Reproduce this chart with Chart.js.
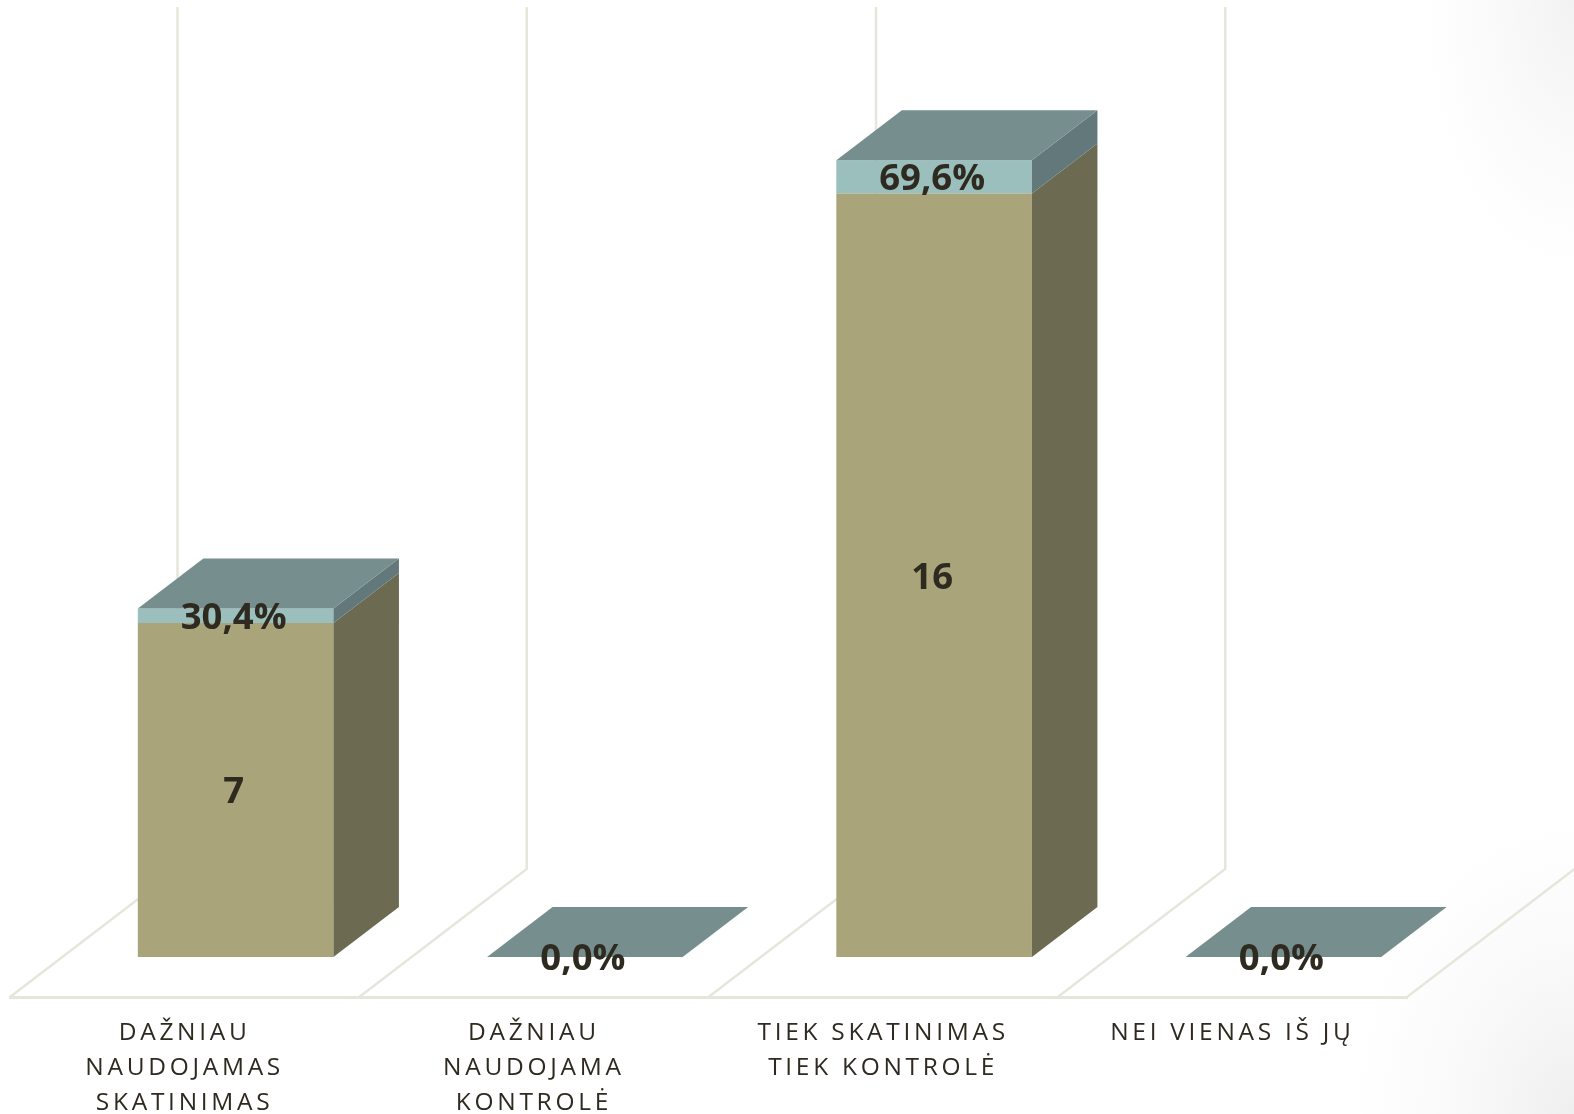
<!DOCTYPE html>
<html>
<head>
<meta charset="utf-8">
<title>Chart</title>
<script src="https://cdn.jsdelivr.net/npm/chart.js@4"></script>
<style>
  html, body { margin: 0; padding: 0; width: 1574px; height: 1114px; overflow: hidden; }
  body {
    background:
      radial-gradient(ellipse 150px 270px at 100% 0%, #f2f2f2 0%, #f9f9f9 45%, rgba(255,255,255,0) 100%),
      radial-gradient(ellipse 220px 290px at 100% 100%, #efefef 0%, #f9f9f9 50%, rgba(255,255,255,0) 100%),
      #ffffff;
  }
  canvas { display: block; }
</style>
</head>
<body>
<canvas id="myChart" width="1574" height="1114"></canvas>
<script>
var categories = [
  ["DAŽNIAU", "NAUDOJAMAS", "SKATINIMAS"],
  ["DAŽNIAU", "NAUDOJAMA", "KONTROLĖ"],
  ["TIEK SKATINIMAS", "TIEK KONTROLĖ"],
  ["NEI VIENAS IŠ JŲ"]
];
var counts = [7, 0, 16, 0];
var shares = [0.304, 0, 0.696, 0];

var gridColor = "#E6E6DC";
var textColor = "#2E2A20";
var labelFont = "bold 36.5px 'Open Sans'";

// front of the bars sits part way back on the floor
var shiftX = 51, shiftY = 40;
// whole floor depth
var floorX = 167.5, floorY = 128;
// bar depth
var depthX = 65.5, depthY = 50;
// back wall runs a little past the top of the y scale
var wallExtra = 3;

function poly(ctx, pts, color) {
  ctx.fillStyle = color;
  ctx.beginPath();
  ctx.moveTo(pts[0][0], pts[0][1]);
  for (var i = 1; i < pts.length; i++) ctx.lineTo(pts[i][0], pts[i][1]);
  ctx.closePath();
  ctx.fill();
}

var box3d = {
  id: "box3d",
  beforeDraw: function (chart) {
    chart.ctx.letterSpacing = "3.7px";
  },
  beforeDatasetsDraw: function (chart) {
    var ctx = chart.ctx;
    var area = chart.chartArea;
    var step = (area.right - area.left) / categories.length;
    ctx.letterSpacing = "0px";

    // floor diagonals and back wall lines
    ctx.save();
    ctx.strokeStyle = gridColor;
    ctx.lineWidth = 2.5;
    for (var i = 0; i <= categories.length; i++) {
      var fx = area.left + step * i;
      ctx.beginPath();
      ctx.moveTo(fx, area.bottom);
      ctx.lineTo(fx + floorX, area.bottom - floorY);
      if (i < categories.length) ctx.lineTo(fx + floorX, area.top - floorY - wallExtra);
      ctx.stroke();
    }
    ctx.restore();

    ctx.save();
    ctx.translate(shiftX, -shiftY);
  },
  afterDatasetsDraw: function (chart) {
    var ctx = chart.ctx;
    var base = chart.getDatasetMeta(0).data;
    var cap = chart.getDatasetMeta(1).data;

    for (var i = 0; i < base.length; i++) {
      var l = base[i].x - base[i].width / 2;
      var r = base[i].x + base[i].width / 2;
      // right side, lower part
      poly(ctx, [[r, base[i].y], [r, base[i].base], [r + depthX, base[i].base - depthY], [r + depthX, base[i].y - depthY]], "#6C6A50");
      // right side, upper part
      poly(ctx, [[r, cap[i].y], [r, cap[i].base], [r + depthX, cap[i].base - depthY], [r + depthX, cap[i].y - depthY]], "#62787A");
      // top
      poly(ctx, [[l, cap[i].y], [l + depthX, cap[i].y - depthY], [r + depthX, cap[i].y - depthY], [r, cap[i].y]], "#768F8E");
    }

    ctx.font = labelFont;
    ctx.fillStyle = textColor;
    ctx.textAlign = "center";
    ctx.textBaseline = "middle";
    for (var j = 0; j < base.length; j++) {
      if (counts[j] > 0) {
        ctx.fillText(String(counts[j]), base[j].x - 2, (base[j].y + base[j].base) / 2 + 3);
      }
      var txt = (shares[j] * 100).toFixed(1).replace(".", ",") + "%";
      ctx.fillText(txt, cap[j].x - 2, (cap[j].y + cap[j].base) / 2 + 3);
    }
    ctx.restore();
  }
};

new Chart("myChart", {
  type: "bar",
  data: {
    labels: categories,
    datasets: [
      { data: counts, backgroundColor: "#A9A47A", clip: false },
      { data: shares, backgroundColor: "#9ABFBC", clip: false }
    ]
  },
  options: {
    responsive: false,
    animation: false,
    layout: { padding: { left: 10, right: 167, top: 138, bottom: 0 } },
    barPercentage: 0.56,
    categoryPercentage: 1,
    plugins: {
      legend: { display: false },
      tooltip: { enabled: false }
    },
    scales: {
      x: {
        stacked: true,
        afterFit: function (scale) { scale.height = 117; },
        grid: { display: false },
        border: { display: true, color: gridColor, width: 3 },
        ticks: {
          color: textColor,
          font: { family: "'Open Sans'", size: 24.5, lineHeight: 1.43 },
          padding: 10,
          maxRotation: 0,
          autoSkip: false
        }
      },
      y: {
        stacked: true,
        display: false,
        min: 0,
        max: 18
      }
    }
  },
  plugins: [box3d]
});
</script>
</body>
</html>
